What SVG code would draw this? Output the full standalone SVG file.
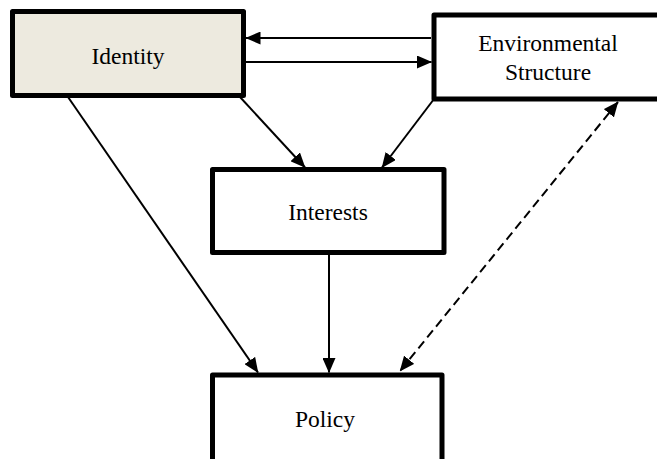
<svg xmlns="http://www.w3.org/2000/svg" width="657" height="459" viewBox="0 0 657 459">
<style>
.box{fill:#ffffff;stroke:#000;stroke-width:5;stroke-linejoin:round}
.lbl{font-family:"Liberation Serif","Times New Roman",serif;font-size:23.5px;fill:#000;text-anchor:middle}
.ln{fill:none;stroke:#000;stroke-width:2}
.dash{stroke-dasharray:9 5}
</style>
<defs>
<marker id="ah" viewBox="0 0 15 13" refX="14.5" refY="6.5" markerWidth="15" markerHeight="13" markerUnits="userSpaceOnUse" orient="auto-start-reverse">
<path d="M0,0 L15,6.5 L0,13 z" fill="#000"/>
</marker>
</defs>
<rect width="657" height="459" fill="#ffffff"/>
<g id="connectors">
<path class="ln" d="M431,38 L246,38" marker-end="url(#ah)"/>
<path class="ln" d="M246,62 L431.5,62" marker-end="url(#ah)"/>
<path class="ln" d="M240,97 L305,167.5" marker-end="url(#ah)"/>
<path class="ln" d="M434,99 L382,167.5" marker-end="url(#ah)"/>
<path class="ln" d="M68,97 L258,372.5" marker-end="url(#ah)"/>
<path class="ln" d="M329,253 L329,372.5" marker-end="url(#ah)"/>
<path class="ln dash" d="M618,102 L400,371" marker-start="url(#ah)" marker-end="url(#ah)"/>
</g>
<g id="identity">
<rect class="box" x="12.5" y="11.5" width="231" height="84" style="fill:#EDEADF"/>
<text class="lbl" x="128" y="64">Identity</text>
</g>
<g id="environmental-structure">
<rect class="box" x="434" y="15" width="240" height="84"/>
<text class="lbl" x="548" y="50.5">Environmental</text>
<text class="lbl" x="548" y="79.5">Structure</text>
</g>
<g id="interests">
<rect class="box" x="212.5" y="169.5" width="231.5" height="83"/>
<text class="lbl" x="328" y="220">Interests</text>
</g>
<g id="policy">
<rect class="box" x="212.5" y="375" width="229.5" height="100"/>
<text class="lbl" x="325" y="426.5">Policy</text>
</g>
</svg>
